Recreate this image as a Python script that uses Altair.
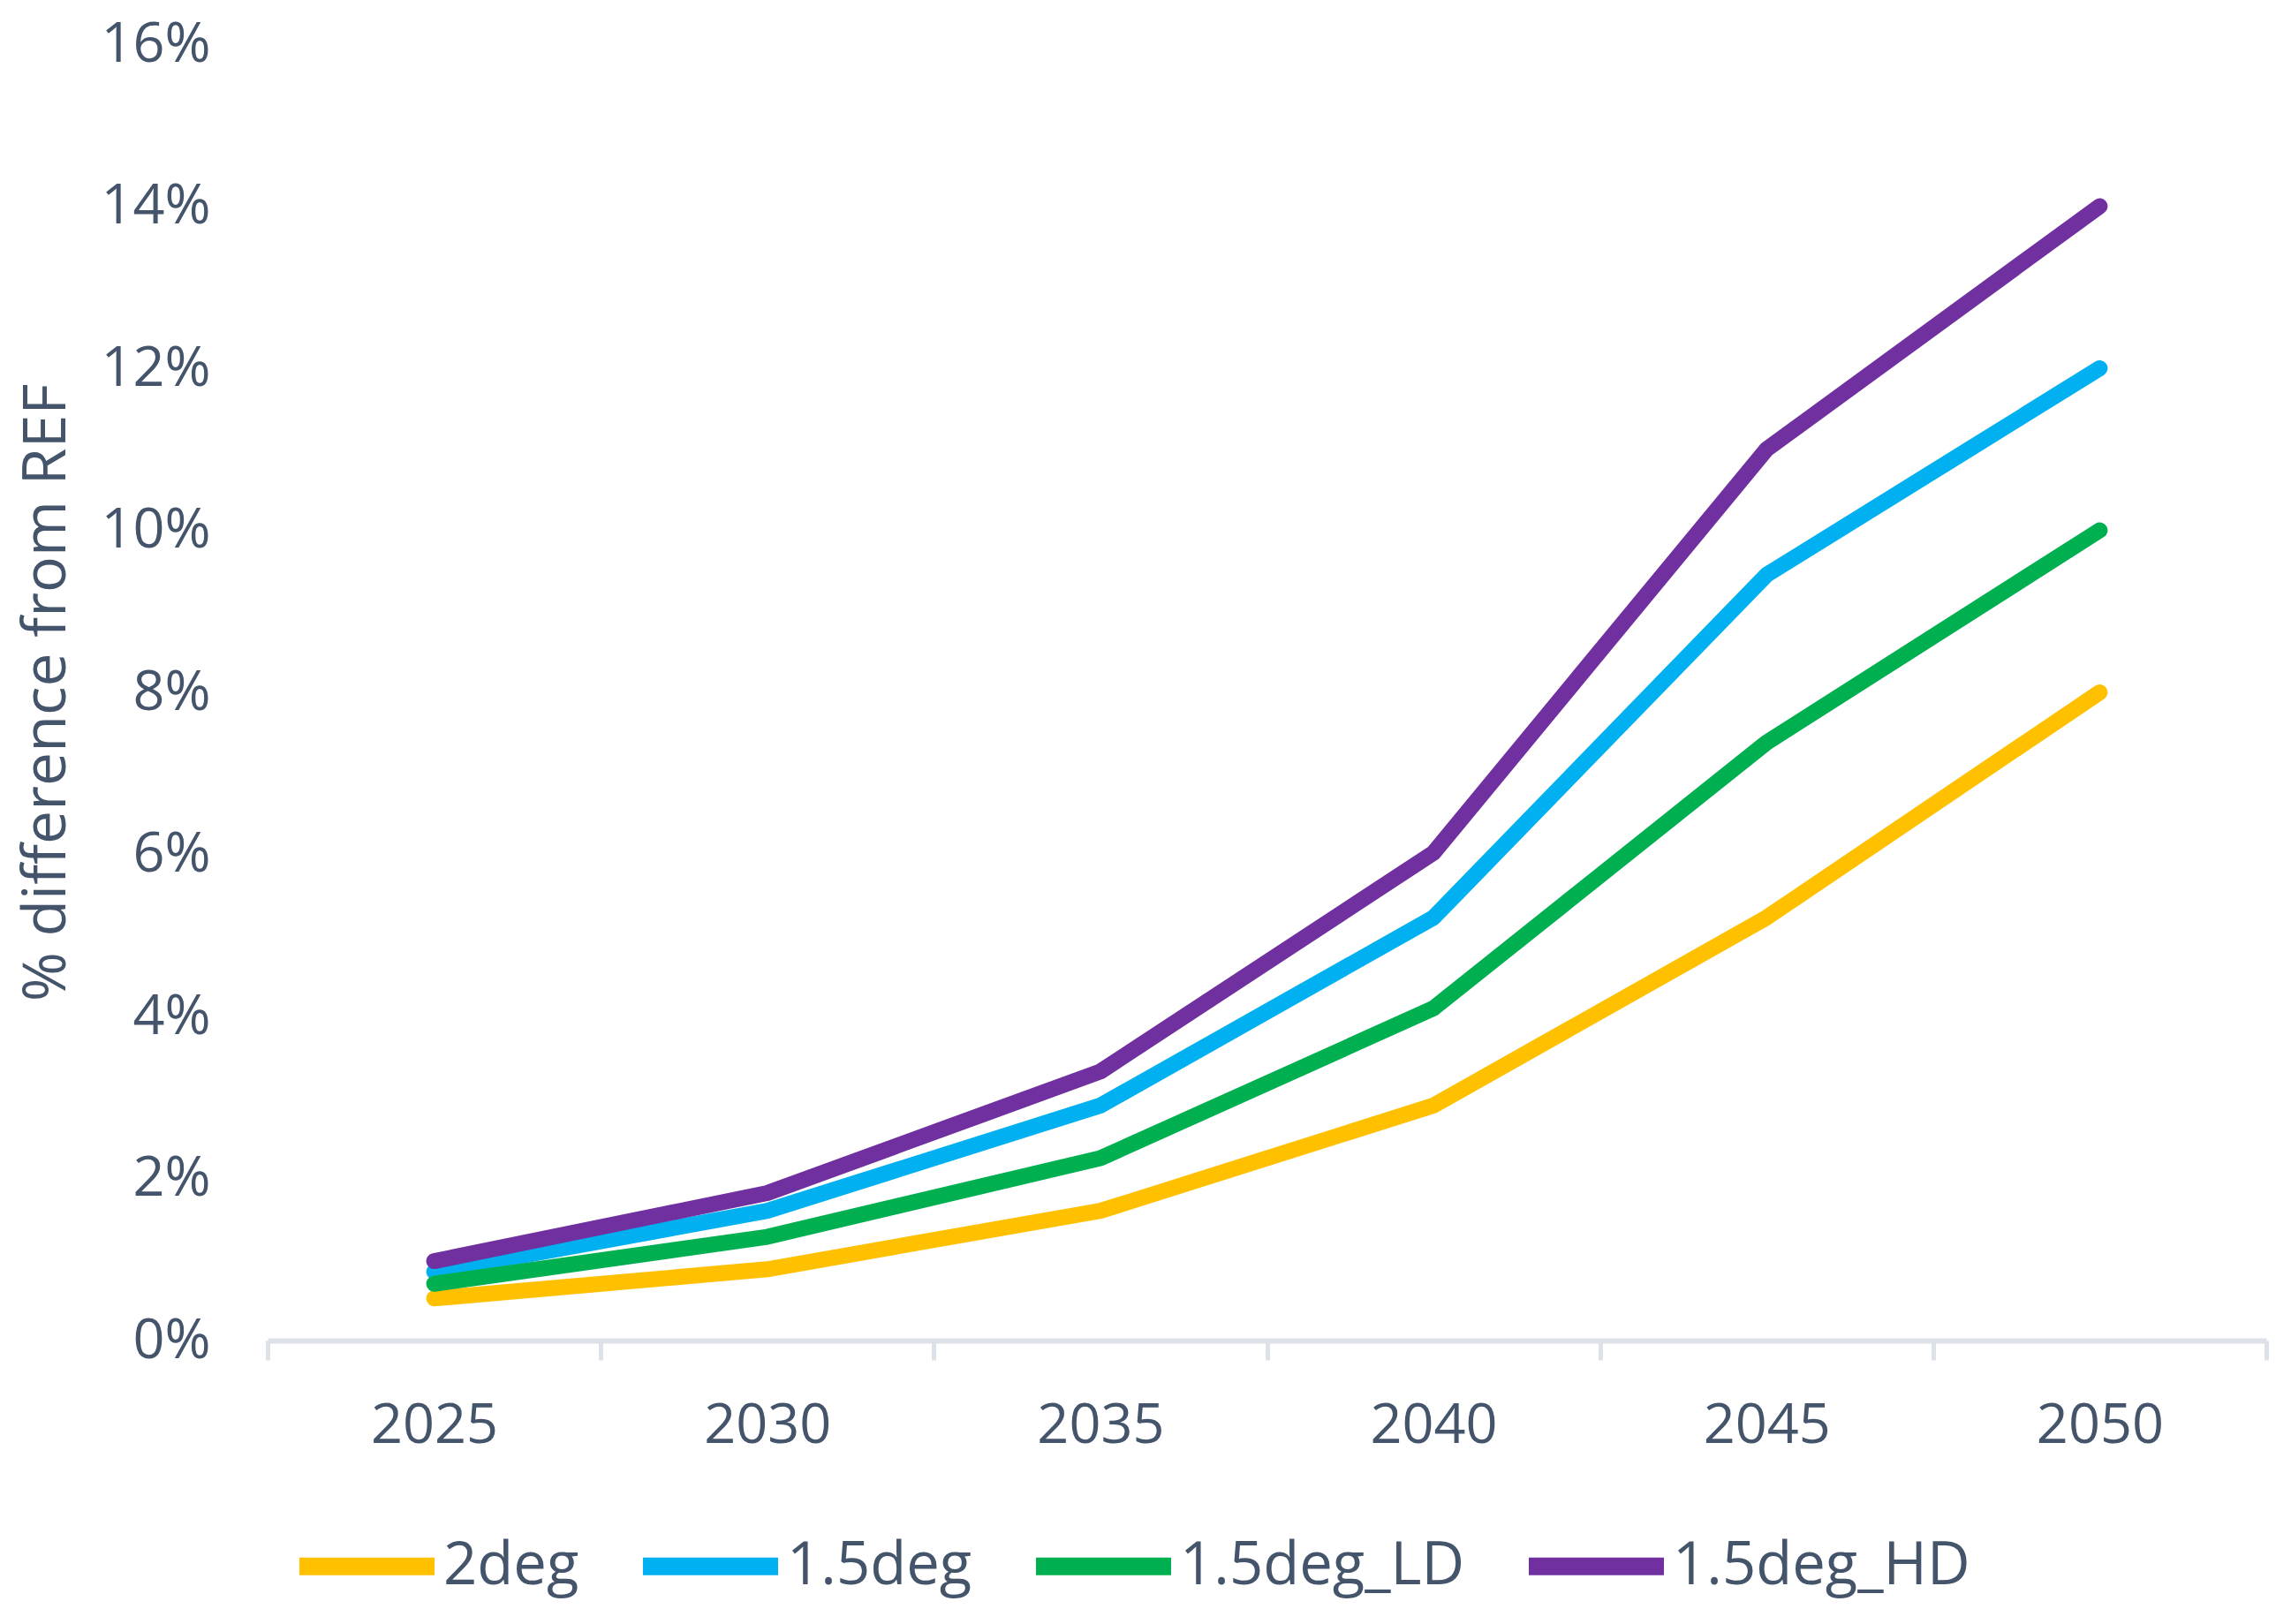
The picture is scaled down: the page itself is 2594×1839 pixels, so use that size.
import altair as alt
import pandas as pd

years = ["2025", "2030", "2035", "2040", "2045", "2050"]
series_names = ["2deg", "1.5deg", "1.5deg_LD", "1.5deg_HD"]
v_2deg = [0.0052, 0.0088, 0.0160, 0.0290, 0.0522, 0.0800]
v_15deg = [0.0085, 0.0160, 0.0290, 0.0522, 0.0945, 0.1200]
v_15deg_ld = [0.0070, 0.0128, 0.0225, 0.0410, 0.0738, 0.1000]
v_15deg_hd = [0.0098, 0.0182, 0.0332, 0.0602, 0.1100, 0.1400]
colors = ["#FFC000", "#00B0F0", "#00B050", "#7030A0"]
y_ticks = [0, 0.02, 0.04, 0.06, 0.08, 0.10, 0.12, 0.14, 0.16]

rows = []
for name, vals in zip(series_names, [v_2deg, v_15deg, v_15deg_ld, v_15deg_hd]):
    for yr, v in zip(years, vals):
        rows.append({"Year": yr, "Scenario": name, "Value": v})
df = pd.DataFrame(rows)

TXT = "#44546A"
FONT = "Open Sans"

chart = alt.Chart(df).mark_line(strokeWidth=18, strokeCap="round", strokeJoin="round").encode(
    x=alt.X("Year:N", sort=years,
            scale=alt.Scale(type="band", paddingInner=0, paddingOuter=0),
            axis=alt.Axis(title=None, labelAngle=0, tickBand="extent",
                          domainColor="#DDE2E9", domainWidth=6,
                          tickColor="#DDE2E9", tickWidth=5, tickSize=22,
                          labelPadding=43, labelFontSize=63, labelColor=TXT,
                          labelFont=FONT, grid=False)),
    y=alt.Y("Value:Q", scale=alt.Scale(domain=[0, 0.16], nice=False),
            axis=alt.Axis(values=y_ticks, format=".0%", title="% difference from REF",
                          domain=False, ticks=False, tickSize=0, grid=False,
                          labelPadding=65, labelFontSize=63, labelColor=TXT, labelFont=FONT,
                          titleFont=FONT, titleFontSize=68, titleFontWeight="normal",
                          titleColor=TXT, titleAngle=270, titleX=-250, titleY=734,
                          titleAlign="center", titleBaseline="middle")),
    color=alt.Color("Scenario:N",
                    scale=alt.Scale(domain=series_names, range=colors),
                    legend=alt.Legend(title=None, orient="none", direction="horizontal",
                                      legendX=0, legendY=1637, padding=0,
                                      symbolType="stroke", symbolSize=23400,
                                      symbolStrokeWidth=20, labelOffset=0, symbolOffset=26,
                                      columnPadding=32, labelFontSize=67, labelLimit=1000,
                                      labelFont=FONT, labelColor=TXT)),
).properties(
    width=2263, height=1468,
    background="white",
    autosize=alt.AutoSizeParams(type="none"),
    padding={"left": 295, "top": 42, "right": 20, "bottom": 300},
).configure_view(stroke=None)

chart.save("out.html", embed_options={"renderer": "svg", "actions": False})
